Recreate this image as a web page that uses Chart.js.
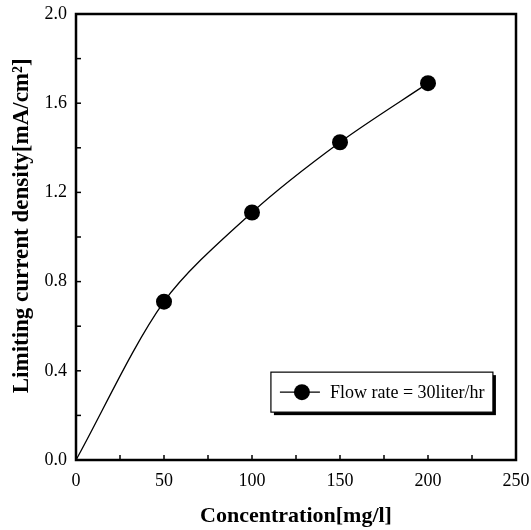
<!DOCTYPE html>
<html>
<head>
<meta charset="utf-8">
<script src="https://cdn.jsdelivr.net/npm/chart.js@4/dist/chart.umd.min.js"></script>
<style>
  html, body { margin: 0; padding: 0; background: #fff; }
  #wrap { width: 531px; height: 530px; }
</style>
</head>
<body>
<div id="wrap"><canvas id="chart"></canvas></div>
<script>
// data
const concentration = [0, 50, 100, 150, 200];
const currentDensity = [0, 0.71, 1.11, 1.425, 1.69];
const markerSizes = [0, 8, 8, 8, 8];
const seriesLabel = 'Flow rate = 30liter/hr';
const yTitle = 'Limiting current density[mA/cm²]';

// inward tick marks
const xTickMarks = [0, 25, 50, 75, 100, 125, 150, 175, 200, 225, 250];
const yTickMarks = [0, 0.2, 0.4, 0.6, 0.8, 1.0, 1.2, 1.4, 1.6, 1.8, 2.0];

const serif = "'Liberation Serif', 'Times New Roman', serif";

// frame, inward ticks, y title and the boxed legend
const framePlugin = {
    id: 'frame',
    afterDatasetsDraw(chart) {
        const ctx = chart.ctx;
        const area = chart.chartArea;
        const xs = chart.scales.x;
        const ys = chart.scales.y;

        ctx.save();
        ctx.strokeStyle = '#000';
        ctx.lineWidth = 1.5;
        xTickMarks.forEach(v => {
            const px = xs.getPixelForValue(v);
            ctx.beginPath();
            ctx.moveTo(px, area.bottom);
            ctx.lineTo(px, area.bottom - 5);
            ctx.stroke();
        });
        yTickMarks.forEach(v => {
            const py = ys.getPixelForValue(v);
            ctx.beginPath();
            ctx.moveTo(area.left, py);
            ctx.lineTo(area.left + 5, py);
            ctx.stroke();
        });

        ctx.lineWidth = 2.5;
        ctx.strokeRect(area.left, area.top, area.right - area.left, area.bottom - area.top);

        // y axis title, sits a little above the middle in the original
        ctx.save();
        ctx.translate(22, ys.getPixelForValue(1.05));
        ctx.rotate(-Math.PI / 2);
        ctx.fillStyle = '#000';
        ctx.font = 'bold 23px ' + serif;
        ctx.textAlign = 'center';
        ctx.textBaseline = 'middle';
        ctx.fillText(yTitle, 0, 0);
        ctx.restore();

        // legend box
        const w = area.right - area.left;
        const h = area.bottom - area.top;
        const bx = area.left + w * 0.443;
        const by = area.top + h * 0.803;
        const bw = 222;
        const bh = 40;
        ctx.fillStyle = '#000';
        ctx.fillRect(bx + 3, by + 3, bw, bh);
        ctx.fillStyle = '#fff';
        ctx.fillRect(bx, by, bw, bh);
        ctx.lineWidth = 1.2;
        ctx.strokeRect(bx, by, bw, bh);

        const ly = by + bh / 2;
        ctx.lineWidth = 1.3;
        ctx.beginPath();
        ctx.moveTo(bx + 9, ly);
        ctx.lineTo(bx + 49, ly);
        ctx.stroke();
        ctx.fillStyle = '#000';
        ctx.beginPath();
        ctx.arc(bx + 31, ly, 8, 0, Math.PI * 2);
        ctx.fill();

        ctx.font = '18px ' + serif;
        ctx.textBaseline = 'middle';
        ctx.textAlign = 'left';
        ctx.fillText(seriesLabel, bx + 59, ly + 1);
        ctx.restore();
    }
};

new Chart(document.getElementById('chart'), {
    type: 'scatter',
    data: {
        datasets: [{
            label: seriesLabel,
            data: concentration.map((c, i) => ({ x: c, y: currentDensity[i] })),
            showLine: true,
            tension: 0.3,
            borderColor: '#000',
            borderWidth: 1.3,
            backgroundColor: '#000',
            pointRadius: markerSizes,
            pointHoverRadius: markerSizes,
            pointBorderWidth: 0
        }]
    },
    options: {
        responsive: true,
        maintainAspectRatio: false,
        animation: false,
        layout: { padding: { left: 0, top: 14, right: 15, bottom: 0 } },
        plugins: {
            legend: { display: false },
            tooltip: { enabled: false }
        },
        scales: {
            x: {
                type: 'linear',
                min: 0,
                max: 250,
                grid: { display: false, drawTicks: false },
                border: { display: false },
                ticks: {
                    stepSize: 50,
                    padding: 10,
                    color: '#000',
                    font: { family: serif, size: 18 },
                    maxRotation: 0
                },
                title: {
                    display: true,
                    text: 'Concentration[mg/l]',
                    color: '#000',
                    font: { family: serif, size: 22, weight: 'bold' },
                    padding: { top: 11, bottom: 0 }
                },
                afterFit(scale) {
                    scale.height = 70;
                    scale.paddingLeft = 0;
                    scale.paddingRight = 0;
                }
            },
            y: {
                min: 0,
                max: 2.0,
                grid: { display: false, drawTicks: false },
                border: { display: false },
                ticks: {
                    stepSize: 0.4,
                    padding: 9,
                    color: '#000',
                    font: { family: serif, size: 18 },
                    callback: v => Number(v).toFixed(1)
                },
                afterFit(scale) {
                    scale.width = 76;
                    scale.paddingTop = 0;
                    scale.paddingBottom = 0;
                }
            }
        }
    },
    plugins: [framePlugin]
});
</script>
</body>
</html>
